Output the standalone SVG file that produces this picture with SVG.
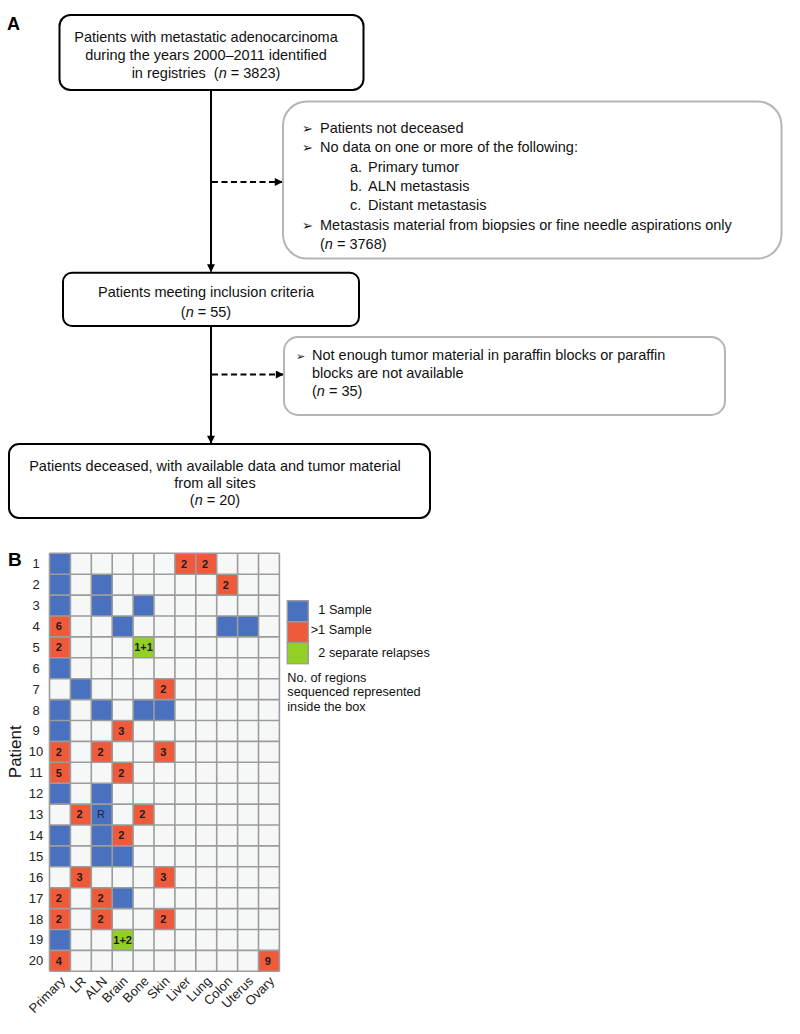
<svg xmlns="http://www.w3.org/2000/svg" width="800" height="1034" viewBox="0 0 800 1034">
<defs>
<marker id="ah" viewBox="0 0 10 10" refX="9" refY="5" markerWidth="4.5" markerHeight="4" orient="auto" markerUnits="strokeWidth">
<path d="M0,0 L10,5 L0,10 z" fill="#000"/>
</marker>
</defs>
<style>
text{font-family:"Liberation Sans",Arial,Helvetica,sans-serif;fill:#111}
.t{font-size:14.5px}
.c{text-anchor:middle}
.bul{font-family:"DejaVu Sans",sans-serif;font-size:13px}
.box{fill:#fff;stroke:#000;stroke-width:2}
.gbox{fill:#fff;stroke:#b5b5b5;stroke-width:2}
.ln{stroke:#000;stroke-width:2;fill:none}
.dash{stroke-dasharray:6 3.5}
.bg{fill:#f6f7f7}
.blue{fill:#4a70c0}
.red{fill:#ef5a3b}
.green{fill:#93d026}
.grid{stroke:#9c9c9c;stroke-width:1.6;fill:none}
.num{font-size:11px;font-weight:bold;text-anchor:middle;fill:#1c1c1c}
.lbl{font-size:12.7px}
.row{font-size:13px;text-anchor:middle;fill:#222}
.col{font-size:13px;text-anchor:end;fill:#222}
.panel{font-weight:bold;fill:#000}
.it{font-style:italic}
</style>

<text class="panel" x="7" y="29.5" font-size="18">A</text>
<text class="panel" x="8" y="566" font-size="19">B</text>

<g id="connectors">
<line class="ln" x1="211" y1="90" x2="211" y2="271.5" marker-end="url(#ah)"/>
<line class="ln" x1="211" y1="326" x2="211" y2="443" marker-end="url(#ah)"/>
<line class="ln dash" x1="212" y1="182" x2="282" y2="182" marker-end="url(#ah)"/>
<line class="ln dash" x1="212" y1="374.5" x2="283" y2="374.5" marker-end="url(#ah)"/>
</g>

<g id="node-registries">
<rect class="box" x="59.5" y="15" width="304" height="75" rx="11"/>
<text class="t c" x="206" y="42">Patients with metastatic adenocarcinoma</text>
<text class="t c" x="206" y="60">during the years 2000–2011 identified</text>
<text class="t c" x="206" y="78" xml:space="preserve">in registries  (<tspan class="it">n</tspan> = 3823)</text>
</g>

<g id="node-excluded1">
<rect class="gbox" x="283" y="101.5" width="498.5" height="157" rx="24"/>
<text class="bul" x="302" y="132.7">➢</text>
<text class="t" x="320" y="132.7">Patients not deceased</text>
<text class="bul" x="302" y="152.1">➢</text>
<text class="t" x="320" y="152.1">No data on one or more of the following:</text>
<text class="t" x="350" y="171.5">a.</text>
<text class="t" x="368" y="171.5">Primary tumor</text>
<text class="t" x="350" y="191">b.</text>
<text class="t" x="368" y="191">ALN metastasis</text>
<text class="t" x="350" y="210.4">c.</text>
<text class="t" x="368" y="210.4">Distant metastasis</text>
<text class="bul" x="302" y="229.8">➢</text>
<text class="t" x="320" y="229.8">Metastasis material from biopsies or fine needle aspirations only</text>
<text class="t" x="320" y="249.2">(<tspan class="it">n</tspan> = 3768)</text>
</g>

<g id="node-inclusion">
<rect class="box" x="63" y="272.7" width="296" height="53.3" rx="9"/>
<text class="t c" x="206" y="296.7">Patients meeting inclusion criteria</text>
<text class="t c" x="206" y="316.7">(<tspan class="it">n</tspan> = 55)</text>
</g>

<g id="node-excluded2">
<rect class="gbox" x="284" y="337" width="441" height="78" rx="14"/>
<text class="bul" x="296" y="360" style="font-size:11px">➢</text>
<text class="t" x="312" y="360">Not enough tumor material in paraffin blocks or paraffin</text>
<text class="t" x="312" y="377.5">blocks are not available</text>
<text class="t" x="312" y="395.5">(<tspan class="it">n</tspan> = 35)</text>
</g>

<g id="node-final">
<rect class="box" x="9" y="444" width="421" height="74" rx="10"/>
<text class="t c" x="215" y="470.5">Patients deceased, with available data and tumor material</text>
<text class="t c" x="215" y="487.5">from all sites</text>
<text class="t c" x="215" y="505">(<tspan class="it">n</tspan> = 20)</text>
</g>

<g id="grid" transform="translate(49.5,553.3)">
<rect class="bg" x="0" y="0" width="229.9" height="418"/>
<g class="blue">
<rect x="0" y="0" width="20.9" height="20.9"/>
<rect x="0" y="20.9" width="20.9" height="20.9"/>
<rect x="41.8" y="20.9" width="20.9" height="20.9"/>
<rect x="0" y="41.8" width="20.9" height="20.9"/>
<rect x="41.8" y="41.8" width="20.9" height="20.9"/>
<rect x="83.6" y="41.8" width="20.9" height="20.9"/>
<rect x="62.7" y="62.7" width="20.9" height="20.9"/>
<rect x="167.2" y="62.7" width="20.9" height="20.9"/>
<rect x="188.1" y="62.7" width="20.9" height="20.9"/>
<rect x="0" y="104.5" width="20.9" height="20.9"/>
<rect x="20.9" y="125.4" width="20.9" height="20.9"/>
<rect x="0" y="146.3" width="20.9" height="20.9"/>
<rect x="41.8" y="146.3" width="20.9" height="20.9"/>
<rect x="83.6" y="146.3" width="20.9" height="20.9"/>
<rect x="104.5" y="146.3" width="20.9" height="20.9"/>
<rect x="0" y="167.2" width="20.9" height="20.9"/>
<rect x="0" y="229.9" width="20.9" height="20.9"/>
<rect x="41.8" y="229.9" width="20.9" height="20.9"/>
<rect x="41.8" y="250.8" width="20.9" height="20.9"/>
<rect x="0" y="271.7" width="20.9" height="20.9"/>
<rect x="41.8" y="271.7" width="20.9" height="20.9"/>
<rect x="0" y="292.6" width="20.9" height="20.9"/>
<rect x="41.8" y="292.6" width="20.9" height="20.9"/>
<rect x="62.7" y="292.6" width="20.9" height="20.9"/>
<rect x="62.7" y="334.4" width="20.9" height="20.9"/>
<rect x="0" y="376.2" width="20.9" height="20.9"/>
</g>
<g class="red">
<rect x="125.4" y="0" width="20.9" height="20.9"/>
<rect x="146.3" y="0" width="20.9" height="20.9"/>
<rect x="167.2" y="20.9" width="20.9" height="20.9"/>
<rect x="0" y="62.7" width="20.9" height="20.9"/>
<rect x="0" y="83.6" width="20.9" height="20.9"/>
<rect x="104.5" y="125.4" width="20.9" height="20.9"/>
<rect x="62.7" y="167.2" width="20.9" height="20.9"/>
<rect x="0" y="188.1" width="20.9" height="20.9"/>
<rect x="41.8" y="188.1" width="20.9" height="20.9"/>
<rect x="104.5" y="188.1" width="20.9" height="20.9"/>
<rect x="0" y="209" width="20.9" height="20.9"/>
<rect x="62.7" y="209" width="20.9" height="20.9"/>
<rect x="20.9" y="250.8" width="20.9" height="20.9"/>
<rect x="83.6" y="250.8" width="20.9" height="20.9"/>
<rect x="62.7" y="271.7" width="20.9" height="20.9"/>
<rect x="20.9" y="313.5" width="20.9" height="20.9"/>
<rect x="104.5" y="313.5" width="20.9" height="20.9"/>
<rect x="0" y="334.4" width="20.9" height="20.9"/>
<rect x="41.8" y="334.4" width="20.9" height="20.9"/>
<rect x="0" y="355.3" width="20.9" height="20.9"/>
<rect x="41.8" y="355.3" width="20.9" height="20.9"/>
<rect x="104.5" y="355.3" width="20.9" height="20.9"/>
<rect x="0" y="397.1" width="20.9" height="20.9"/>
<rect x="209" y="397.1" width="20.9" height="20.9"/>
</g>
<g class="green">
<rect x="83.6" y="83.6" width="20.9" height="20.9"/>
<rect x="62.7" y="376.2" width="20.9" height="20.9"/>
</g>
<path class="grid" d="M0 0V418M20.9 0V418M41.8 0V418M62.7 0V418M83.6 0V418M104.5 0V418M125.4 0V418M146.3 0V418M167.2 0V418M188.1 0V418M209 0V418M229.9 0V418M0 0H229.9M0 20.9H229.9M0 41.8H229.9M0 62.7H229.9M0 83.6H229.9M0 104.5H229.9M0 125.4H229.9M0 146.3H229.9M0 167.2H229.9M0 188.1H229.9M0 209H229.9M0 229.9H229.9M0 250.8H229.9M0 271.7H229.9M0 292.6H229.9M0 313.5H229.9M0 334.4H229.9M0 355.3H229.9M0 376.2H229.9M0 397.1H229.9M0 418H229.9"/>
<text class="num" x="134.6" y="14.4">2</text>
<text class="num" x="155.5" y="14.4">2</text>
<text class="num" x="176.4" y="35.3">2</text>
<text class="num" x="9.2" y="77.1">6</text>
<text class="num" x="9.2" y="98">2</text>
<text class="num" x="94.05" y="98">1+1</text>
<text class="num" x="113.7" y="139.8">2</text>
<text class="num" x="71.9" y="181.6">3</text>
<text class="num" x="9.2" y="202.5">2</text>
<text class="num" x="51" y="202.5">2</text>
<text class="num" x="113.7" y="202.5">3</text>
<text class="num" x="9.2" y="223.4">5</text>
<text class="num" x="71.9" y="223.4">2</text>
<text class="num" x="30.1" y="265.2">2</text>
<text class="num" x="51.5" y="264.8" style="font-weight:normal;fill:#1b2540">R</text>
<text class="num" x="92.8" y="265.2">2</text>
<text class="num" x="71.9" y="286.1">2</text>
<text class="num" x="30.1" y="327.9">3</text>
<text class="num" x="113.7" y="327.9">3</text>
<text class="num" x="9.2" y="348.8">2</text>
<text class="num" x="51" y="348.8">2</text>
<text class="num" x="9.2" y="369.7">2</text>
<text class="num" x="51" y="369.7">2</text>
<text class="num" x="113.7" y="369.7">2</text>
<text class="num" x="73.15" y="390.6">1+2</text>
<text class="num" x="9.2" y="411.5">4</text>
<text class="num" x="218.2" y="411.5">9</text>
</g>

<g id="row-labels">
<text class="row" x="36" y="568.2">1</text>
<text class="row" x="36" y="589.1">2</text>
<text class="row" x="36" y="610">3</text>
<text class="row" x="36" y="630.9">4</text>
<text class="row" x="36" y="651.8">5</text>
<text class="row" x="36" y="672.7">6</text>
<text class="row" x="36" y="693.6">7</text>
<text class="row" x="36" y="714.5">8</text>
<text class="row" x="36" y="735.4">9</text>
<text class="row" x="36" y="756.3">10</text>
<text class="row" x="36" y="777.2">11</text>
<text class="row" x="36" y="798.1">12</text>
<text class="row" x="36" y="819">13</text>
<text class="row" x="36" y="839.9">14</text>
<text class="row" x="36" y="860.8">15</text>
<text class="row" x="36" y="881.7">16</text>
<text class="row" x="36" y="902.6">17</text>
<text class="row" x="36" y="923.5">18</text>
<text class="row" x="36" y="944.4">19</text>
<text class="row" x="36" y="965.3">20</text>
<text x="21.5" y="751.7" font-size="17" text-anchor="middle" fill="#111" transform="rotate(-90 21.5 751.7)">Patient</text>
</g>

<g id="col-labels">
<text class="col" transform="translate(66,982) rotate(-45)">Primary</text>
<text class="col" transform="translate(86.9,982) rotate(-45)">LR</text>
<text class="col" transform="translate(107.8,982) rotate(-45)">ALN</text>
<text class="col" transform="translate(128.7,982) rotate(-45)">Brain</text>
<text class="col" transform="translate(149.6,982) rotate(-45)">Bone</text>
<text class="col" transform="translate(170.5,982) rotate(-45)">Skin</text>
<text class="col" transform="translate(191.4,982) rotate(-45)">Liver</text>
<text class="col" transform="translate(212.3,982) rotate(-45)">Lung</text>
<text class="col" transform="translate(233.2,982) rotate(-45)">Colon</text>
<text class="col" transform="translate(254.1,982) rotate(-45)">Uterus</text>
<text class="col" transform="translate(275,982) rotate(-45)">Ovary</text>
</g>

<g id="legend">
<rect class="blue" x="287.3" y="600.7" width="21" height="21" stroke="#9c9c9c" stroke-width="1.4"/>
<rect class="red" x="287.3" y="621.7" width="21" height="21" stroke="#9c9c9c" stroke-width="1.4"/>
<rect class="green" x="287.3" y="642.7" width="21" height="21" stroke="#9c9c9c" stroke-width="1.4"/>
<text class="lbl" x="318.3" y="613.7">1 Sample</text>
<text class="lbl" x="310.7" y="634.4">&gt;1 Sample</text>
<text class="lbl" x="318.3" y="656.7">2 separate relapses</text>
<text class="lbl" x="287.3" y="681.5">No. of regions</text>
<text class="lbl" x="287.3" y="696.3">sequenced represented</text>
<text class="lbl" x="287.3" y="711">inside the box</text>
</g>
</svg>
